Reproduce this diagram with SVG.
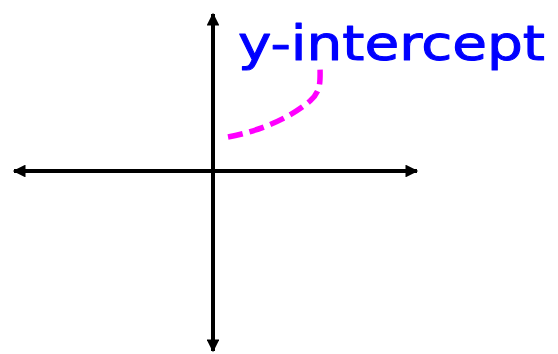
<svg xmlns="http://www.w3.org/2000/svg" width="558" height="354" viewBox="0 0 558 354">
<style>
.axis{stroke:#000;stroke-width:4;fill:none}
.lbl{font-family:"Comic Sans MS","DejaVu Sans",sans-serif;font-size:48px;fill:#0000ff;stroke:#0000ff;stroke-width:1;stroke-linejoin:round}
.lead{stroke:#ff00ff;stroke-width:5.5;fill:none;stroke-dasharray:15 7}
</style>
<defs>
<marker id="ah" viewBox="0 0 10 10" refX="9" refY="5" markerWidth="3.4" markerHeight="3.2" orient="auto" markerUnits="strokeWidth">
<path d="M0,0 L10,5 L0,10 Z" fill="#000"/>
</marker>
</defs>
<g id="connectors">
<line class="axis" x1="213" y1="171" x2="14" y2="171" marker-end="url(#ah)"/>
<line class="axis" x1="213" y1="171" x2="417" y2="171" marker-end="url(#ah)"/>
<line class="axis" x1="213" y1="171" x2="213" y2="14" marker-end="url(#ah)"/>
<line class="axis" x1="213" y1="171" x2="213" y2="351" marker-end="url(#ah)"/>
<path class="lead" d="M228,137 C260,131 290,118 310,101 C322,90 320,80 320,64"/>
</g>
<g id="label">
<text class="lbl" x="238" y="60" textLength="307" lengthAdjust="spacingAndGlyphs">y-intercept</text>
</g>
</svg>
